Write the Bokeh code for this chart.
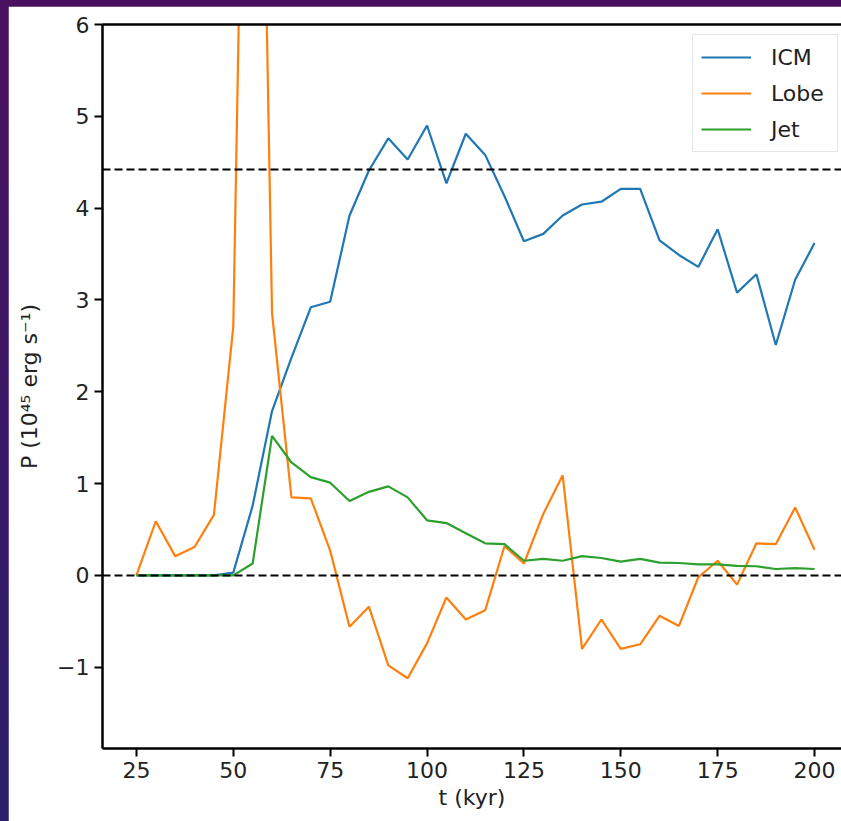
from bokeh.plotting import figure
from bokeh.models import Span, LinearAxis, Legend, LegendItem, FixedTicker, Range1d, Column
from bokeh.embed import file_html
from bokeh.resources import INLINE

t = [25, 30, 35, 40, 45, 50, 55, 60, 65, 70, 75, 80, 85, 90, 95, 100, 105, 110,
     115, 120, 125, 130, 135, 140, 145, 150, 155, 160, 165, 170, 175, 180, 185, 190, 195, 200]

icm = [0.0, 0.0, 0.0, 0.0, 0.0, 0.03, 0.76, 1.79, 2.37, 2.92, 2.98, 3.92, 4.41, 4.76, 4.53, 4.90,
       4.27, 4.81, 4.58, 4.13, 3.64, 3.72, 3.92, 4.04, 4.07, 4.21, 4.21, 3.65, 3.49, 3.36,
       3.77, 3.08, 3.28, 2.51, 3.22, 3.62]

lobe = [0.0, 0.59, 0.21, 0.31, 0.66, 2.71, 14.5, 2.86, 0.85, 0.84, 0.27, -0.56, -0.34, -0.98,
        -1.12, -0.74, -0.24, -0.48, -0.38, 0.32, 0.13, 0.67, 1.09, -0.80, -0.48, -0.80, -0.75,
        -0.44, -0.55, -0.02, 0.16, -0.10, 0.35, 0.34, 0.74, 0.28]

jet = [0.0, 0.0, 0.0, 0.0, 0.0, 0.0, 0.13, 1.52, 1.23, 1.07, 1.01, 0.81, 0.91, 0.97, 0.85, 0.60,
       0.57, 0.46, 0.35, 0.34, 0.16, 0.18, 0.16, 0.21, 0.19, 0.15, 0.18, 0.14, 0.135, 0.12,
       0.12, 0.105, 0.10, 0.07, 0.08, 0.07]

ref_lines = [0.0, 4.42]
x_ticks = [25, 50, 75, 100, 125, 150, 175, 200]
y_ticks = [-1, 0, 1, 2, 3, 4, 5, 6]

FONT = "DejaVu Sans"
FS = "22px"

p = figure(width=833, height=815, output_backend="svg", toolbar_location=None,
           x_range=Range1d(16.25, 206.96), y_range=Range1d(-1.885, 6.0),
           min_border_left=94, min_border_right=0, min_border_top=18, min_border_bottom=73)
p.margin = (6, 0, 0, 8)
p.background_fill_color = "white"
p.border_fill_color = "white"
p.outline_line_color = None
p.xgrid.visible = False
p.ygrid.visible = False

for ax, ticks in ((p.xaxis[0], x_ticks), (p.yaxis[0], y_ticks)):
    ax.ticker = FixedTicker(ticks=ticks)
    ax.minor_tick_line_color = None
    ax.major_tick_in = 0
    ax.major_tick_out = 8
    ax.major_tick_line_width = 2
    ax.major_tick_line_color = "black"
    ax.axis_line_width = 2.5
    ax.axis_line_color = "black"
    ax.major_label_text_font = FONT
    ax.major_label_text_font_size = FS
    ax.major_label_text_color = "#222222"
    ax.axis_label_text_font = FONT
    ax.axis_label_text_font_size = FS
    ax.axis_label_text_font_style = "normal"
    ax.axis_label_text_color = "#222222"

p.xaxis[0].axis_label = "t (kyr)"
p.xaxis[0].major_label_standoff = 5
p.xaxis[0].axis_label_standoff = 4
p.yaxis[0].axis_label = "P (10⁴⁵ erg s⁻¹)"
p.yaxis[0].major_label_standoff = 5
p.yaxis[0].axis_label_standoff = 12

top = LinearAxis(ticker=FixedTicker(ticks=[]), axis_line_width=2.5, axis_line_color="black",
                 major_tick_line_color=None, minor_tick_line_color=None,
                 major_label_text_font_size="0px")
p.add_layout(top, "above")

for yv in ref_lines:
    p.add_layout(Span(location=yv, dimension="width", line_color="black",
                      line_width=2, line_dash="8 4"))

r_icm = p.line(t, icm, line_color="#1f77b4", line_width=2.2)
r_lobe = p.line(t, lobe, line_color="#ff7f0e", line_width=2.2)
r_jet = p.line(t, jet, line_color="#2ca02c", line_width=2.2)

legend = Legend(items=[LegendItem(label="ICM", renderers=[r_icm]),
                       LegendItem(label="Lobe", renderers=[r_lobe]),
                       LegendItem(label="Jet", renderers=[r_jet])],
                location=(590, 596))
legend.label_text_font = FONT
legend.label_text_font_size = FS
legend.label_text_color = "#222222"
legend.glyph_width = 50
legend.glyph_height = 28
legend.label_height = 28
legend.label_width = 58
legend.label_standoff = 20
legend.spacing = 8
legend.padding = 8
legend.border_line_color = "#cccccc"
legend.border_line_width = 1.5
legend.background_fill_alpha = 0.85
p.add_layout(legend)

root = Column(p, width=841, height=821,
              styles={"background": "linear-gradient(to bottom, #4a1060, #2a1f6a)"})

open("out.html", "w").write(file_html(root, INLINE))
